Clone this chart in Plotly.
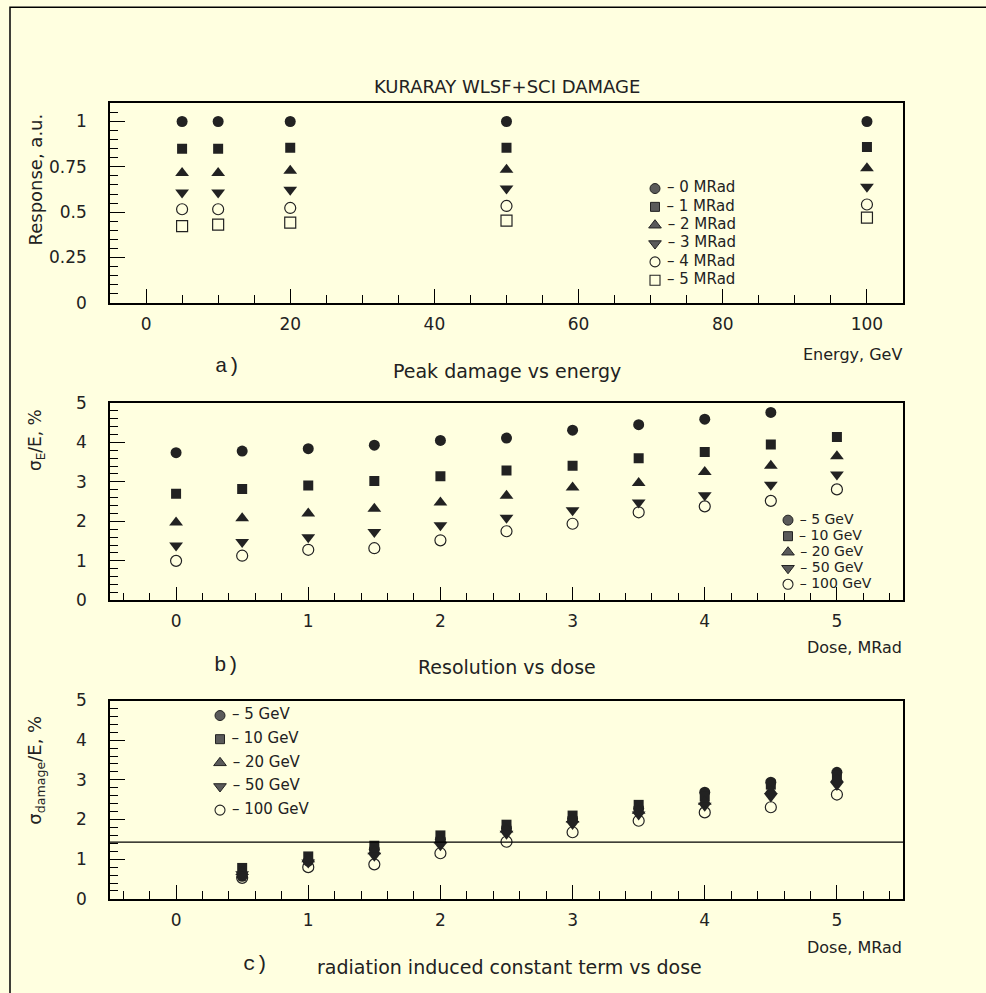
import plotly.graph_objects as go

W, H = 986, 993
BG = "#ffffe0"
INK = "#222222"
FONT = "DejaVu Sans"

# ---------------- data ----------------
energies = [5, 10, 20, 50, 100]
resp_0mrad = [1.0, 1.0, 1.0, 1.0, 1.0]
resp_1mrad = [0.85, 0.85, 0.855, 0.855, 0.86]
resp_2mrad = [0.716, 0.716, 0.728, 0.734, 0.742]
resp_3mrad = [0.608, 0.608, 0.623, 0.63, 0.64]
resp_4mrad = [0.516, 0.516, 0.523, 0.534, 0.542]
resp_5mrad = [0.423, 0.431, 0.442, 0.453, 0.47]

doses_b = [0, 0.5, 1, 1.5, 2, 2.5, 3, 3.5, 4, 4.5, 5]
res_5gev = [3.74, 3.78, 3.84, 3.93, 4.05, 4.11, 4.31, 4.45, 4.59, 4.76, 5.15]
res_10gev = [2.70, 2.82, 2.91, 3.02, 3.14, 3.29, 3.41, 3.60, 3.76, 3.95, 4.14]
res_20gev = [1.97, 2.08, 2.20, 2.32, 2.48, 2.65, 2.86, 2.97, 3.25, 3.41, 3.65]
res_50gev = [1.39, 1.48, 1.60, 1.73, 1.90, 2.09, 2.28, 2.48, 2.66, 2.93, 3.19]
res_100gev = [1.00, 1.13, 1.28, 1.32, 1.52, 1.75, 1.94, 2.23, 2.38, 2.52, 2.81]

doses_c = [0.5, 1, 1.5, 2, 2.5, 3, 3.5, 4, 4.5, 5]
dmg_5gev = [0.57, 0.95, 1.25, 1.50, 1.78, 2.02, 2.28, 2.69, 2.94, 3.19]
dmg_10gev = [0.78, 1.07, 1.34, 1.60, 1.87, 2.10, 2.37, 2.58, 2.88, 3.12]
dmg_20gev = [0.68, 1.00, 1.20, 1.48, 1.75, 2.00, 2.22, 2.45, 2.72, 3.02]
dmg_50gev = [0.62, 0.92, 1.09, 1.35, 1.64, 1.89, 2.13, 2.35, 2.58, 2.87]
dmg_100gev = [0.53, 0.80, 0.87, 1.15, 1.44, 1.68, 1.97, 2.18, 2.31, 2.63]
damage_threshold = 1.43

dose_legend_labels = ["– 0 MRad", "– 1 MRad", "– 2 MRad", "– 3 MRad", "– 4 MRad", "– 5 MRad"]
energy_legend_labels = ["– 5 GeV", "– 10 GeV", "– 20 GeV", "– 50 GeV", "– 100 GeV"]

# ---------------- helpers ----------------
SY, OY = 0.978, 10.8   # vertical rendering correction


def ry(y):
    return (y - OY) / SY


def px(x):
    return x / W


def py(y):
    return 1 - ry(y) / H


SYMS6 = ["circle", "square", "triangle-up", "triangle-down", "circle-open", "square-open"]
SYMS5 = ["circle", "square", "triangle-up", "triangle-down", "circle-open"]
SIZES = {"circle": 11, "square": 10, "triangle-up": 12, "triangle-down": 12,
         "circle-open": 11, "square-open": 11}


def marker(sym):
    if sym.endswith("open"):
        return dict(symbol=sym, size=SIZES[sym], color=INK, line=dict(color=INK, width=1.2))
    return dict(symbol=sym, size=SIZES[sym], color=INK, line=dict(width=0))


fig = go.Figure()

# panel a
for ys, sym in zip([resp_0mrad, resp_1mrad, resp_2mrad, resp_3mrad, resp_4mrad, resp_5mrad], SYMS6):
    fig.add_trace(go.Scatter(x=energies, y=ys, mode="markers", marker=marker(sym),
                             xaxis="x", yaxis="y", showlegend=False, cliponaxis=True))
# panel b
for ys, sym in zip([res_5gev, res_10gev, res_20gev, res_50gev, res_100gev], SYMS5):
    fig.add_trace(go.Scatter(x=doses_b, y=ys, mode="markers", marker=marker(sym),
                             xaxis="x2", yaxis="y2", showlegend=False, cliponaxis=True))
# panel c
for ys, sym in zip([dmg_5gev, dmg_10gev, dmg_20gev, dmg_50gev, dmg_100gev], SYMS5):
    fig.add_trace(go.Scatter(x=doses_c, y=ys, mode="markers", marker=marker(sym),
                             xaxis="x3", yaxis="y3", showlegend=False, cliponaxis=True))


# legend boxes drawn on a full-page pixel axis
def legend_marker(sym):
    sz = SIZES[sym] - 1
    if sym.endswith("open"):
        return dict(symbol=sym, size=sz, color=INK, line=dict(color=INK, width=1.1))
    return dict(symbol=sym, size=sz, color="#5a5a5a", line=dict(color=INK, width=1))


def add_legend(labels, syms, x0, y0, dy, fs):
    for i, (lab, sym) in enumerate(zip(labels, syms)):
        fig.add_trace(go.Scatter(x=[x0], y=[ry(y0 + i * dy)], mode="markers+text",
                                 marker=legend_marker(sym), text=[" " + lab],
                                 textposition="middle right",
                                 textfont=dict(family=FONT, size=fs, color=INK),
                                 xaxis="x4", yaxis="y4", showlegend=False, cliponaxis=False))


add_legend(dose_legend_labels, SYMS6, 655, 189, 18.3, 15)
add_legend(energy_legend_labels, SYMS5, 788, 520, 16, 14)
add_legend(energy_legend_labels, SYMS5, 220, 715, 23.6, 15)

axis_common = dict(showline=True, mirror=True, linecolor="black", linewidth=1.5,
                   showgrid=False, zeroline=False, ticks="inside", tickcolor="black",
                   tickwidth=1, tickfont=dict(family=FONT, size=17, color=INK))

xa = dict(axis_common, domain=[px(110), px(903)], ticklen=14, ticklabelstandoff=5)
ya = dict(axis_common, ticklen=15, ticklabelstandoff=18)
MINOR = dict(ticklen=8, ticks="inside", tickcolor="black")

fig.update_layout(
    width=W, height=H,
    margin=dict(l=0, r=0, t=0, b=0),
    paper_bgcolor=BG, plot_bgcolor="rgba(0,0,0,0)",
    xaxis=dict(xa, range=[-5, 105], tick0=0, dtick=20, anchor="y",
               minor=dict(MINOR, dtick=5)),
    yaxis=dict(ya, range=[0, 1.1], tick0=0, dtick=0.25, anchor="x",
               domain=[py(303), py(104)], minor=dict(MINOR, dtick=0.05)),
    xaxis2=dict(xa, range=[-0.5, 5.5], tick0=0, dtick=1, anchor="y2",
                minor=dict(MINOR, dtick=0.2)),
    yaxis2=dict(ya, range=[0, 5], tick0=0, dtick=1, anchor="x2",
                domain=[py(600), py(403)], minor=dict(MINOR, dtick=0.2)),
    xaxis3=dict(xa, range=[-0.5, 5.5], tick0=0, dtick=1, anchor="y3",
                minor=dict(MINOR, dtick=0.2)),
    yaxis3=dict(ya, range=[0, 5], tick0=0, dtick=1, anchor="x3",
                domain=[py(898), py(700)], minor=dict(MINOR, dtick=0.2)),
    xaxis4=dict(domain=[0, 1], range=[0, W], visible=False, anchor="y4", fixedrange=True),
    yaxis4=dict(domain=[0, 1], range=[H, 0], visible=False, anchor="x4", fixedrange=True),
)

# threshold line in panel c
fig.add_shape(type="line", xref="x3 domain", yref="y3", x0=0, x1=1,
              y0=damage_threshold, y1=damage_threshold, line=dict(color="black", width=1.2))

# outer frame
fig.add_shape(type="rect", xref="paper", yref="paper", x0=px(10), x1=px(1000),
              y0=-0.05, y1=py(8), line=dict(color="black", width=1.5), layer="below")


def ann(text, x, y, size=15, xanchor="center", textangle=0, family=FONT):
    fig.add_annotation(text=text, x=px(x), y=py(y), xref="paper", yref="paper",
                       showarrow=False, xanchor=xanchor, yanchor="middle",
                       textangle=textangle, font=dict(family=family, size=size, color=INK))


ann("KURARAY WLSF+SCI DAMAGE", 507, 87, 18)
ann("Energy, GeV", 904, 355, 16, xanchor="right")
ann("a)", 227, 367, 21, family="Liberation Mono")
ann("Peak damage vs energy", 507, 371, 19)
ann("Dose, MRad", 904, 647, 16, xanchor="right")
ann("b)", 226, 665, 21, family="Liberation Mono")
ann("Resolution vs dose", 507, 667, 19)
ann("Dose, MRad", 904, 947, 16, xanchor="right")
ann("c)", 255, 963, 21, family="Liberation Mono")
ann("radiation induced constant term vs dose", 509, 966, 19)

ann("Response, a.u.", 36, 180, 18, textangle=-90)
ann("σ<sub>E</sub>/E, %", 36, 440, 17, textangle=-90)
ann("σ<sub>damage</sub>/E, %", 36, 770, 18, textangle=-90)

fig.write_html("out.html")
